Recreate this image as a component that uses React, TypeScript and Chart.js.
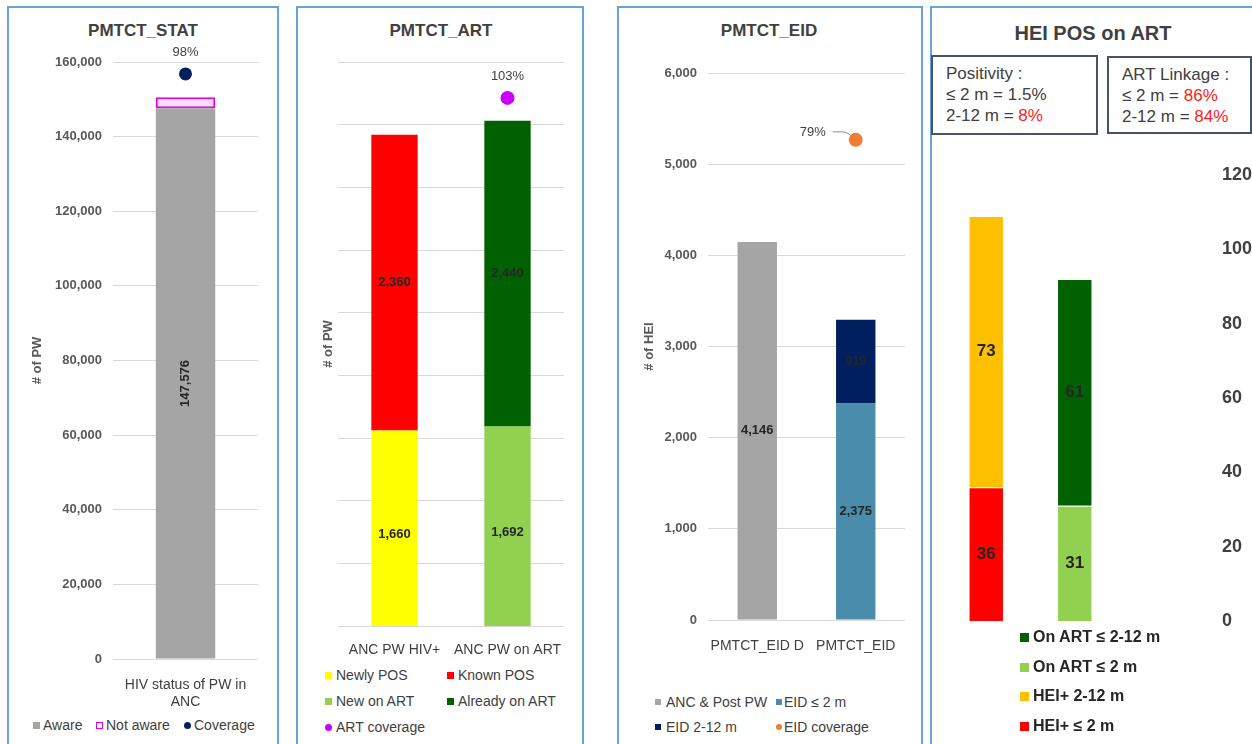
import React, { useEffect, useRef } from 'react';
import { Chart, registerables } from 'chart.js';

Chart.register(...registerables);

const FONT = "'Liberation Sans', Arial, Helvetica, sans-serif";
Chart.defaults.font.family = FONT;

// ---------- Panel 1: PMTCT_STAT ----------
const STAT_CATEGORIES = [['HIV status of PW in', 'ANC']];
const STAT_AWARE = [147576];
const STAT_NOT_AWARE = [3000];
const STAT_COVERAGE = [0.98];
const STAT_Y_MAX = 160000;
const STAT_Y_STEP = 20000;

// ---------- Panel 2: PMTCT_ART ----------
const ART_CATEGORIES = ['ANC PW HIV+', 'ANC PW on ART'];
const ART_NEWLY_POS = [1660, null];
const ART_KNOWN_POS = [2360, null];
const ART_NEW_ON_ART = [null, 1692];
const ART_ALREADY_ON_ART = [null, 2440];
const ART_COVERAGE = [null, 1.03];
const ART_GRID_TICKS = [100, 600, 1100, 1600, 2100, 2600, 3100, 3600, 4100, 4600];

// ---------- Panel 3: PMTCT_EID ----------
const EID_CATEGORIES = ['PMTCT_EID D', 'PMTCT_EID'];
const EID_ANC_POST = [4146, null];
const EID_LE2 = [null, 2375];
const EID_2_12 = [null, 919];
const EID_COVERAGE = [null, 0.79];
const EID_Y_MAX = 6000;
const EID_Y_STEP = 1000;

// ---------- Panel 4: HEI POS on ART ----------
const HEI_CATEGORIES = ['HEI+', 'On ART'];
const HEI_POS_LE2 = [36, null];
const HEI_POS_2_12 = [73, null];
const HEI_ART_LE2 = [null, 31];
const HEI_ART_2_12 = [null, 61];
const HEI_Y_MAX = 120;
const HEI_Y_STEP = 20;

const GRID = '#d9d9d9';
const TXT = '#404040';
const TICK = '#595959';

const fmt = (v: number) => v.toLocaleString('en-US');

const labelPlugin = {
  id: 'valueLabels',
  afterDatasetsDraw(chart: any) {
    const ctx = chart.ctx;
    chart.data.datasets.forEach((ds: any, i: number) => {
      const cfg = ds.lbl;
      if (!cfg) return;
      const meta = chart.getDatasetMeta(i);
      meta.data.forEach((el: any, j: number) => {
        const v = ds.data[j];
        if (v === null || v === undefined) return;
        const text = cfg.pct ? Math.round(v * 100) + '%' : fmt(v);
        ctx.save();
        ctx.font = `${cfg.bold ? 'bold ' : ''}${cfg.size}px ${FONT}`;
        ctx.fillStyle = cfg.color || '#262626';
        ctx.textAlign = 'center';
        ctx.textBaseline = 'middle';
        if (cfg.mode === 'center') {
          ctx.fillText(text, el.x, (el.y + el.base) / 2);
        } else if (cfg.mode === 'rot') {
          ctx.translate(el.x, (el.y + el.base) / 2);
          ctx.rotate(-Math.PI / 2);
          ctx.fillText(text, 0, 0);
        } else if (cfg.mode === 'above') {
          ctx.fillText(text, el.x, el.y - cfg.dist);
        } else if (cfg.mode === 'left') {
          const tx = el.x - cfg.dist;
          const ty = el.y - 7;
          ctx.fillText(text, tx, ty);
          ctx.strokeStyle = '#8c8c8c';
          ctx.lineWidth = 1;
          ctx.beginPath();
          ctx.moveTo(el.x - 23, ty - 1);
          ctx.lineTo(el.x - 14, ty - 1);
          ctx.quadraticCurveTo(el.x - 7, ty - 1, el.x - 3, el.y - 2);
          ctx.stroke();
        }
        ctx.restore();
      });
    });
  },
};

function ChartCanvas({ left, top, width, height, config }: any) {
  const ref = useRef<HTMLCanvasElement | null>(null);
  useEffect(() => {
    if (!ref.current) return;
    const chart = new Chart(ref.current, { ...config, plugins: [labelPlugin] });
    return () => chart.destroy();
  }, []);
  return (
    <canvas
      ref={ref}
      width={width}
      height={height}
      style={{ position: 'absolute', left, top, width, height }}
    />
  );
}

function LegendItem({ x, y, color, text, shape = 'square', size = 7, gap = 4, fontSize = 14, bold = false, border }: any) {
  return (
    <div
      style={{
        position: 'absolute',
        left: x,
        top: y - 10,
        height: 20,
        display: 'flex',
        alignItems: 'center',
        whiteSpace: 'nowrap',
        fontFamily: FONT,
        fontSize,
        fontWeight: bold ? 'bold' : 'normal',
        color: bold ? '#262626' : TXT,
      }}
    >
      <span
        style={{
          display: 'inline-block',
          width: size,
          height: size,
          boxSizing: 'border-box',
          background: color,
          border: border ? `1.5px solid ${border}` : 'none',
          borderRadius: shape === 'circle' ? '50%' : 0,
          marginRight: gap,
        }}
      />
      <span>{text}</span>
    </div>
  );
}

function Panel({ left, width }: any) {
  return (
    <div
      style={{
        position: 'absolute',
        left,
        top: 6,
        width,
        height: 760,
        boxSizing: 'border-box',
        border: '2px solid #6aa3d8',
      }}
    />
  );
}

function Title({ cx, cy, text, size }: any) {
  return (
    <div
      style={{
        position: 'absolute',
        left: cx - 150,
        top: cy - size * 0.6,
        width: 300,
        textAlign: 'center',
        fontFamily: FONT,
        fontWeight: 'bold',
        fontSize: size,
        lineHeight: `${size * 1.2}px`,
        color: TXT,
      }}
    >
      {text}
    </div>
  );
}

const yTitle = (text: string, pad: number) => ({
  display: true,
  text,
  color: TICK,
  font: { size: 13, weight: 'bold' as const },
  padding: { top: pad, bottom: 0 },
});

const baseOptions = {
  responsive: false,
  animation: false,
  plugins: { legend: { display: false }, tooltip: { enabled: false } },
};

const xCat = (padding: number, h: number) => ({
  stacked: true,
  grid: { display: false },
  border: { display: false },
  ticks: { color: TXT, font: { size: 14 }, padding, maxRotation: 0, autoSkip: false },
  afterFit: (s: any) => {
    s.height = h;
  },
});

const statConfig = {
  type: 'bar',
  data: {
    labels: STAT_CATEGORIES,
    datasets: [
      {
        label: 'Aware',
        data: STAT_AWARE,
        backgroundColor: '#a5a5a5',
        categoryPercentage: 1,
        barPercentage: 0.41,
        lbl: { mode: 'rot', size: 13, bold: true },
      },
      {
        label: 'Not aware',
        data: STAT_NOT_AWARE,
        backgroundColor: '#fcdcfc',
        borderColor: '#e600e6',
        borderWidth: 2,
        borderSkipped: false,
        categoryPercentage: 1,
        barPercentage: 0.41,
      },
      {
        type: 'line',
        label: 'Coverage',
        data: STAT_COVERAGE,
        yAxisID: 'y1',
        showLine: false,
        pointRadius: 6.5,
        pointBackgroundColor: '#002060',
        pointBorderWidth: 0,
        lbl: { mode: 'above', pct: true, dist: 22, size: 13, color: TXT },
      },
    ],
  },
  options: {
    ...baseOptions,
    layout: { padding: { left: 0, top: 22, right: 18, bottom: 0 } },
    scales: {
      x: xCat(10, 51),
      y: {
        stacked: true,
        min: 0,
        max: STAT_Y_MAX,
        ticks: { stepSize: STAT_Y_STEP, padding: 11, color: TICK, font: { size: 13, weight: 'bold' }, callback: (v: number) => fmt(v) },
        grid: { color: GRID, drawTicks: false },
        border: { display: false },
        title: yTitle('# of PW', 20),
        afterFit: (s: any) => {
          s.width = 103;
        },
      },
      y1: { display: false, min: 0, max: 1 },
    },
  },
};

const artConfig = {
  type: 'bar',
  data: {
    labels: ART_CATEGORIES,
    datasets: [
      { label: 'Newly POS', data: ART_NEWLY_POS, backgroundColor: '#ffff00' },
      { label: 'Known POS', data: ART_KNOWN_POS, backgroundColor: '#ff0000' },
      { label: 'New on ART', data: ART_NEW_ON_ART, backgroundColor: '#92d050' },
      { label: 'Already on ART', data: ART_ALREADY_ON_ART, backgroundColor: '#006100' },
      {
        type: 'line',
        label: 'ART coverage',
        data: ART_COVERAGE,
        yAxisID: 'y1',
        showLine: false,
        pointRadius: 7,
        pointBackgroundColor: '#cc00ff',
        pointBorderWidth: 0,
        lbl: { mode: 'above', pct: true, dist: 21, size: 13, color: TXT },
      },
    ].map((d: any) =>
      d.type === 'line'
        ? d
        : { ...d, categoryPercentage: 1, barPercentage: 0.41, lbl: { mode: 'center', size: 13, bold: true } }
    ),
  },
  options: {
    ...baseOptions,
    layout: { padding: { left: 0, top: 22, right: 17, bottom: 0 } },
    scales: {
      x: xCat(8, 34),
      y: {
        stacked: true,
        min: ART_GRID_TICKS[0],
        max: ART_GRID_TICKS[ART_GRID_TICKS.length - 1],
        ticks: { display: false },
        afterBuildTicks: (s: any) => {
          s.ticks = ART_GRID_TICKS.map((v) => ({ value: v }));
        },
        grid: { color: GRID, drawTicks: false },
        border: { display: false },
        title: yTitle('# of PW', 22),
        afterFit: (s: any) => {
          s.width = 39;
        },
      },
      y1: { display: false, min: 0, max: 1.1 },
    },
  },
};

const eidConfig = {
  type: 'bar',
  data: {
    labels: EID_CATEGORIES,
    datasets: [
      { label: 'ANC & Post PW', data: EID_ANC_POST, backgroundColor: '#a5a5a5' },
      { label: 'EID ≤ 2 m', data: EID_LE2, backgroundColor: '#4a8cab' },
      { label: 'EID 2-12 m', data: EID_2_12, backgroundColor: '#001f5f' },
      {
        type: 'line',
        label: 'EID coverage',
        data: EID_COVERAGE,
        yAxisID: 'y1',
        showLine: false,
        pointRadius: 7,
        pointBackgroundColor: '#ed7d31',
        pointBorderWidth: 0,
        lbl: { mode: 'left', pct: true, dist: 43, size: 13, color: TXT },
      },
    ].map((d: any) =>
      d.type === 'line'
        ? d
        : { ...d, categoryPercentage: 1, barPercentage: 0.4, lbl: { mode: 'center', size: 13, bold: true } }
    ),
  },
  options: {
    ...baseOptions,
    layout: { padding: { left: 0, top: 33, right: 15, bottom: 0 } },
    scales: {
      x: xCat(10, 40),
      y: {
        stacked: true,
        min: 0,
        max: EID_Y_MAX,
        ticks: { stepSize: EID_Y_STEP, padding: 11, color: TICK, font: { size: 13, weight: 'bold' }, callback: (v: number) => fmt(v) },
        grid: { color: GRID, drawTicks: false },
        border: { display: false },
        title: yTitle('# of HEI', 22),
        afterFit: (s: any) => {
          s.width = 88;
        },
      },
      y1: { display: false, min: 0, max: 0.9 },
    },
  },
};

const heiConfig = {
  type: 'bar',
  data: {
    labels: HEI_CATEGORIES,
    datasets: [
      { label: 'HEI+ ≤ 2 m', data: HEI_POS_LE2, backgroundColor: '#ff0000' },
      { label: 'HEI+ 2-12 m', data: HEI_POS_2_12, backgroundColor: '#ffc000' },
      { label: 'On ART ≤ 2 m', data: HEI_ART_LE2, backgroundColor: '#92d050' },
      { label: 'On ART ≤ 2-12 m', data: HEI_ART_2_12, backgroundColor: '#006100' },
    ].map((d: any) => ({
      ...d,
      borderColor: '#ffffff',
      borderWidth: 1,
      categoryPercentage: 1,
      barPercentage: 0.4,
      lbl: { mode: 'center', size: 17, bold: true },
    })),
  },
  options: {
    ...baseOptions,
    layout: { padding: { left: 8, top: 25, right: 0, bottom: 19 } },
    scales: {
      x: { display: false, stacked: true },
      y: {
        position: 'right',
        stacked: true,
        min: 0,
        max: HEI_Y_MAX,
        ticks: { stepSize: HEI_Y_STEP, padding: 103, color: TXT, font: { size: 18, weight: 'bold' } },
        grid: { display: false, drawTicks: false },
        border: { display: false },
        afterFit: (s: any) => {
          s.width = 145;
          s.paddingTop = 0;
          s.paddingBottom = 0;
        },
      },
    },
  },
};

const boxStyle: any = {
  position: 'absolute',
  boxSizing: 'border-box',
  border: '2px solid #44546a',
  background: '#fff',
  fontFamily: FONT,
  fontSize: 17,
  lineHeight: '21px',
  color: TXT,
  padding: '6px 0 0 13px',
  whiteSpace: 'nowrap',
};
const RED = { color: '#ff2020' };

export default function App() {
  return (
    <div
      style={{
        position: 'fixed',
        left: 0,
        top: 0,
        width: 1252,
        height: 744,
        overflow: 'hidden',
        background: '#fff',
      }}
    >
      <Panel left={7} width={272} />
      <Panel left={296} width={288} />
      <Panel left={617} width={306} />
      <Panel left={930} width={340} />

      <Title cx={143} cy={31} text="PMTCT_STAT" size={17} />
      <Title cx={441} cy={31} text="PMTCT_ART" size={17} />
      <Title cx={769} cy={31} text="PMTCT_EID" size={17} />
      <Title cx={1093} cy={33} text="HEI POS on ART" size={20} />

      <ChartCanvas left={10} top={40} width={266} height={670} config={statConfig} />
      <ChartCanvas left={299} top={40} width={282} height={620} config={artConfig} />
      <ChartCanvas left={620} top={40} width={300} height={620} config={eidConfig} />
      <ChartCanvas left={934} top={150} width={330} height={490} config={heiConfig} />

      {/* Panel 1 legend */}
      <LegendItem x={33} y={725} color="#a5a5a5" text="Aware" gap={3} />
      <LegendItem x={96} y={725} color="#ffffff" border="#e600e6" text="Not aware" gap={3} />
      <LegendItem x={184} y={725} color="#002060" shape="circle" text="Coverage" gap={3} />

      {/* Panel 2 legend */}
      <LegendItem x={325} y={675} color="#ffff00" text="Newly POS" />
      <LegendItem x={447} y={675} color="#ff0000" text="Known POS" />
      <LegendItem x={325} y={701} color="#92d050" text="New on ART" />
      <LegendItem x={447} y={701} color="#006100" text="Already on ART" />
      <LegendItem x={325} y={727} color="#cc00ff" shape="circle" text="ART coverage" />

      {/* Panel 3 legend */}
      <LegendItem x={655} y={702} color="#a5a5a5" size={6} gap={5} text="ANC & Post PW" />
      <LegendItem x={776} y={702} color="#4a8cab" size={6} gap={2} text="EID ≤ 2 m" />
      <LegendItem x={655} y={727} color="#001f5f" size={6} gap={5} text="EID 2-12 m" />
      <LegendItem x={776} y={727} color="#ed7d31" shape="circle" size={6} gap={2} text="EID coverage" />

      {/* Panel 4 legend */}
      <LegendItem x={1020} y={637} color="#006100" size={9} gap={4} fontSize={16} bold text="On ART ≤ 2-12 m" />
      <LegendItem x={1020} y={667} color="#92d050" size={9} gap={4} fontSize={16} bold text="On ART ≤ 2 m" />
      <LegendItem x={1020} y={696} color="#ffc000" size={9} gap={4} fontSize={16} bold text="HEI+ 2-12 m" />
      <LegendItem x={1020} y={726} color="#ff0000" size={9} gap={4} fontSize={16} bold text="HEI+  ≤ 2 m" />

      {/* Panel 4 text boxes */}
      <div style={{ ...boxStyle, left: 931, top: 55, width: 167, height: 80 }}>
        <div>Positivity :</div>
        <div>≤ 2 m = 1.5%</div>
        <div>
          2-12 m = <span style={RED}>8%</span>
        </div>
      </div>
      <div style={{ ...boxStyle, left: 1107, top: 56, width: 145, height: 78 }}>
        <div>ART Linkage :</div>
        <div>
          ≤ 2 m = <span style={RED}>86%</span>
        </div>
        <div>
          2-12 m = <span style={RED}>84%</span>
        </div>
      </div>
    </div>
  );
}
